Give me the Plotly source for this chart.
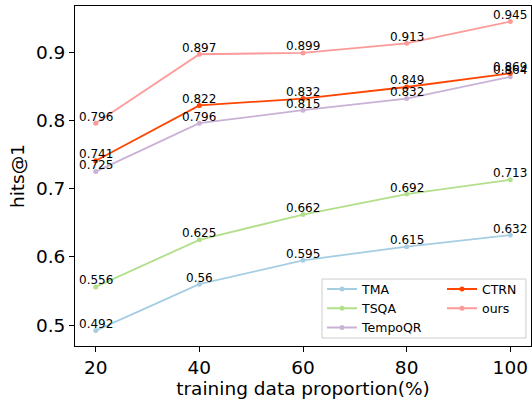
import plotly.graph_objects as go

x_vals = [20, 40, 60, 80, 100]
tma = [0.492, 0.56, 0.595, 0.615, 0.632]
tsqa = [0.556, 0.625, 0.662, 0.692, 0.713]
tempoqr = [0.725, 0.796, 0.815, 0.832, 0.864]
ctrn = [0.741, 0.822, 0.832, 0.849, 0.869]
ours = [0.796, 0.897, 0.899, 0.913, 0.945]

series = [
    ("TMA", tma, "#a6cee3", "legend"),
    ("TSQA", tsqa, "#b2df8a", "legend"),
    ("TempoQR", tempoqr, "#cab2d6", "legend"),
    ("CTRN", ctrn, "#ff4500", "legend2"),
    ("ours", ours, "#fb9a99", "legend2"),
]

fig = go.Figure()
annotations = []
for name, vals, col, leg in series:
    fig.add_trace(go.Scatter(
        x=x_vals, y=vals, name=name, mode="lines+markers",
        line=dict(color=col, width=1.8),
        marker=dict(color=col, size=5),
        legend=leg,
    ))
    for xv, v in zip(x_vals, vals):
        annotations.append(dict(
            x=xv, y=v, xref="x", yref="y", text=f"{v:g}", showarrow=False,
            xanchor="center", yanchor="middle", yshift=6.5,
            font=dict(family="DejaVu Sans", size=12, color="black"),
        ))

fig.update_layout(
    width=532, height=402,
    margin=dict(l=75, r=1, t=6, b=56, autoexpand=False),
    plot_bgcolor="white", paper_bgcolor="white",
    font=dict(family="DejaVu Sans", color="black"),
    showlegend=True,
    annotations=annotations,
    shapes=[dict(
        type="rect", xref="paper", yref="paper",
        x0=0.5417, x1=0.989, y0=0.0235, y1=0.197,
        line=dict(color="#cccccc", width=1),
        fillcolor="rgba(255,255,255,0.8)", layer="above",
    )],
    legend=dict(
        x=0.5417, y=0.2106, xanchor="left", yanchor="top",
        bgcolor="rgba(0,0,0,0)", borderwidth=0,
        font=dict(size=12.5), itemwidth=30, tracegroupgap=0,
    ),
    legend2=dict(
        x=0.8048, y=0.2106, xanchor="left", yanchor="top",
        bgcolor="rgba(0,0,0,0)", borderwidth=0,
        font=dict(size=12.5), itemwidth=30, tracegroupgap=0,
    ),
    xaxis=dict(
        range=[16, 104], tickvals=x_vals, ticktext=[str(v) for v in x_vals],
        showgrid=False, zeroline=False, showline=True, linecolor="black", mirror=True,
        ticks="outside", ticklen=5, tickcolor="black",
        tickfont=dict(size=18.5),
        title=dict(text="training data proportion(%)", font=dict(size=18.5), standoff=2),
    ),
    yaxis=dict(
        range=[0.4694, 0.9677], tickvals=[0.5, 0.6, 0.7, 0.8, 0.9],
        ticktext=["0.5", "0.6", "0.7", "0.8", "0.9"],
        showgrid=False, zeroline=False, showline=True, linecolor="black", mirror=True,
        ticks="outside", ticklen=5, tickcolor="black",
        tickfont=dict(size=18.5),
        title=dict(text="hits@1", font=dict(size=18.5), standoff=6),
    ),
)

fig.write_html("out.html", config={"displayModeBar": False},
               post_script="document.body.style.margin='0';")
